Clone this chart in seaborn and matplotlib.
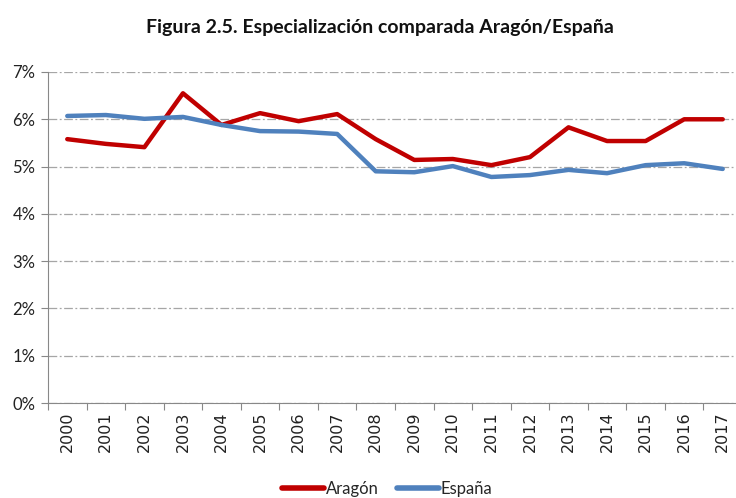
import pandas as pd
import matplotlib.pyplot as plt
import seaborn as sns
from matplotlib.ticker import FuncFormatter, FixedLocator

# datos (%)
years = list(range(2000, 2018))
aragon = [5.58, 5.48, 5.41, 6.55, 5.88, 6.13, 5.96, 6.11, 5.58, 5.14,
          5.16, 5.03, 5.20, 5.83, 5.54, 5.54, 6.00, 6.00]
espana = [6.07, 6.09, 6.01, 6.05, 5.88, 5.75, 5.74, 5.69, 4.90, 4.88,
          5.01, 4.78, 4.82, 4.93, 4.86, 5.03, 5.07, 4.95]

df = pd.DataFrame({
    'year': years * 2,
    'valor': aragon + espana,
    'serie': ['Aragón'] * len(years) + ['España'] * len(years),
})

sns.set_theme(style="white")
plt.rcParams['font.family'] = ['Lato', 'DejaVu Sans']

fig = plt.figure(figsize=(7.36, 4.98), dpi=100)
ax = fig.add_axes([48 / 736, 95 / 498, 694 / 736, 331 / 498])

sns.lineplot(data=df, x='year', y='valor', hue='serie',
             palette={'Aragón': '#C00000', 'España': '#4F81BD'},
             linewidth=3.2, ax=ax, legend=False, solid_capstyle='round')

ax.set_xlim(1999.5, 2017.5)
ax.set_ylim(0, 7)
ax.set_yticks(range(0, 8))
ax.yaxis.set_major_formatter(FuncFormatter(lambda v, p: f'{int(v)}%'))
ax.yaxis.grid(True, color='#A6A6A6', linestyle=(0, (7, 2, 1.5, 2)), linewidth=0.9)
ax.set_axisbelow(True)

ax.set_xticks(years)
ax.set_xticklabels([str(y) for y in years], rotation=90,
                   fontfamily='DejaVu Sans', fontsize=11.5, color='#222222')
ax.xaxis.set_minor_locator(FixedLocator([y + 0.5 for y in [1999] + years]))
ax.tick_params(axis='x', which='major', length=0, pad=6)
ax.tick_params(axis='x', which='minor', length=5, color='#888888', width=0.8, bottom=True)
ax.tick_params(axis='y', length=5, color='#888888', width=0.8, left=True,
               labelsize=12, labelcolor='#222222', pad=4)

for s in ['top', 'right']:
    ax.spines[s].set_visible(False)
for s in ['left', 'bottom']:
    ax.spines[s].set_color('#888888')
    ax.spines[s].set_linewidth(0.8)

ax.set_xlabel('')
ax.set_ylabel('')

fig.text(0.516, 0.945, 'Figura 2.5. Especialización comparada Aragón/España',
         ha='center', va='center', fontsize=14, fontweight='bold', color='#111111')

handles = [plt.Line2D([], [], color='#C00000', linewidth=4, solid_capstyle='round'),
           plt.Line2D([], [], color='#4F81BD', linewidth=4, solid_capstyle='round')]
fig.legend(handles, ['Aragón', 'España'], loc='center', bbox_to_anchor=(0.526, 0.018),
           ncol=2, frameon=False, fontsize=12, handlelength=2.5, handletextpad=0.1,
           columnspacing=1.1)

plt.savefig('out.png', dpi=100)
